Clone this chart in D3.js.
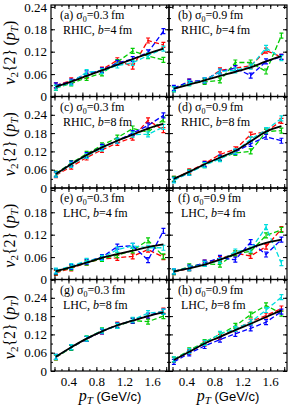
<!DOCTYPE html>
<html>
<head>
<meta charset="utf-8">
<script src="https://cdn.jsdelivr.net/npm/d3@7"></script>
<style>
  body { margin: 0; background: #fff; }
  svg { display: block; }
  text { font-family: "Liberation Serif", "Times New Roman", serif; fill: #000; }
</style>
</head>
<body>
<svg id="chart" width="289" height="407"></svg>
<script>
// pT bins (GeV/c)
var pt = [0.22, 0.44, 0.66, 0.88, 1.10, 1.32, 1.54, 1.76];

var panelTags = ["a", "b", "c", "d", "e", "f", "g", "h"];
var sigma0 = ["0.3", "0.9", "0.3", "0.9", "0.3", "0.9", "0.3", "0.9"];
var collider = ["RHIC", "RHIC", "RHIC", "RHIC", "LHC", "LHC", "LHC", "LHC"];
var impact = ["4", "4", "8", "8", "4", "4", "8", "8"];

// black solid curve
var hydro = [
  [0.026, 0.040, 0.055, 0.070, 0.085, 0.100, 0.115, 0.128],
  [0.021, 0.032, 0.043, 0.055, 0.066, 0.078, 0.094, 0.108],
  [0.046, 0.078, 0.108, 0.133, 0.155, 0.175, 0.195, 0.210],
  [0.030, 0.053, 0.078, 0.100, 0.122, 0.153, 0.185, 0.203],
  [0.022, 0.033, 0.045, 0.058, 0.068, 0.077, 0.087, 0.094],
  [0.022, 0.030, 0.040, 0.053, 0.068, 0.084, 0.098, 0.107],
  [0.047, 0.078, 0.106, 0.130, 0.150, 0.165, 0.180, 0.192],
  [0.036, 0.063, 0.090, 0.112, 0.134, 0.155, 0.177, 0.199]
];
var redV = [
  [0.030, 0.043, 0.055, 0.072, 0.097, 0.080, 0.150, 0.138],
  [0.020, 0.040, 0.042, 0.070, 0.076, 0.082, 0.123, 0.106],
  [0.042, 0.070, 0.100, 0.125, 0.148, 0.165, 0.222, 0.190],
  [0.030, 0.055, 0.080, 0.110, 0.127, 0.175, 0.185, 0.220],
  [0.018, 0.030, 0.045, 0.055, 0.058, 0.062, 0.080, 0.060],
  [0.020, 0.030, 0.045, 0.055, 0.070, 0.063, 0.088, 0.135],
  [0.045, 0.077, 0.105, 0.130, 0.152, 0.165, 0.180, 0.198],
  [0.036, 0.063, 0.090, 0.112, 0.137, 0.162, 0.182, 0.205]
];
var greenV = [
  [0.023, 0.035, 0.050, 0.062, 0.092, 0.122, 0.108, 0.098],
  [0.020, 0.036, 0.039, 0.043, 0.091, 0.091, 0.067, 0.163],
  [0.047, 0.082, 0.112, 0.140, 0.165, 0.195, 0.183, 0.225],
  [0.030, 0.052, 0.075, 0.098, 0.115, 0.120, 0.185, 0.188],
  [0.020, 0.032, 0.045, 0.055, 0.065, 0.078, 0.105, 0.062],
  [0.020, 0.035, 0.042, 0.040, 0.070, 0.075, 0.118, 0.133],
  [0.045, 0.076, 0.107, 0.133, 0.148, 0.165, 0.162, 0.180],
  [0.038, 0.068, 0.095, 0.120, 0.148, 0.185, 0.215, 0.188]
];
var blueV = [
  [0.030, 0.040, 0.062, 0.070, 0.090, 0.100, 0.118, 0.175],
  [0.023, 0.040, 0.043, 0.067, 0.076, 0.056, 0.094, 0.106],
  [0.045, 0.080, 0.108, 0.135, 0.155, 0.180, 0.205, 0.238],
  [0.027, 0.050, 0.078, 0.100, 0.118, 0.145, 0.168, 0.155],
  [0.022, 0.034, 0.048, 0.060, 0.088, 0.090, 0.052, 0.130],
  [0.022, 0.032, 0.045, 0.058, 0.053, 0.100, 0.067, 0.107],
  [0.046, 0.078, 0.105, 0.130, 0.150, 0.165, 0.182, 0.195],
  [0.030, 0.058, 0.082, 0.103, 0.122, 0.140, 0.160, 0.195]
];
var cyanV = [
  [0.024, 0.037, 0.065, 0.068, 0.083, 0.090, 0.110, 0.128],
  [0.019, 0.036, 0.043, 0.067, 0.070, 0.080, 0.130, 0.103],
  [0.044, 0.076, 0.105, 0.130, 0.155, 0.175, 0.176, 0.200],
  [0.025, 0.050, 0.075, 0.095, 0.120, 0.160, 0.190, 0.228],
  [0.024, 0.036, 0.050, 0.058, 0.080, 0.090, 0.085, 0.085],
  [0.022, 0.030, 0.042, 0.050, 0.075, 0.080, 0.140, 0.044],
  [0.046, 0.078, 0.106, 0.132, 0.148, 0.168, 0.190, 0.195],
  [0.038, 0.065, 0.092, 0.122, 0.138, 0.160, 0.200, 0.242]
];

var yMaxRow = [0.245, 0.3, 0.245, 0.3];
var yTickLabels = [
  [0, 0.06, 0.12, 0.18, 0.24],
  [0, 0.06, 0.12, 0.18, 0.24],
  [0, 0.06, 0.12, 0.18],
  [0, 0.06, 0.12, 0.18, 0.24]
];
var xTickLabels = [0.4, 0.8, 1.2, 1.6];
var xDomain = [0.15, 1.84];

var svg = d3.select("#chart"),
    padL = 51, padR = 287, padT = 5, padB = 371,
    colW = (padR - padL) / 2,
    rowH = (padB - padT) / 4;

var series = [
  {vals: redV, color: "#ff0000"},
  {vals: greenV, color: "#00cc00"},
  {vals: blueV, color: "#0000ff"},
  {vals: cyanV, color: "#00dede"}
];

var x = d3.scaleLinear().domain(xDomain).range([0, colW]);
var xMajor = d3.range(0.2, 1.81, 0.2).map(function(d) { return +d.toFixed(1); });
var xMinor = d3.range(0.2, 1.81, 0.1).map(function(d) { return +d.toFixed(1); });

panelTags.forEach(function(tag, p) {
  var r = Math.floor(p / 2), c = p % 2;
  var g = svg.append("g")
      .attr("transform", "translate(" + (padL + c * colW) + "," + (padT + r * rowH) + ")");
  var y = d3.scaleLinear().domain([0, yMaxRow[r]]).range([rowH, 0]);
  var yMajor = d3.range(0, yMaxRow[r] + 0.001, 0.06).map(function(d) { return +d.toFixed(2); });
  var yMinor = d3.range(0, yMaxRow[r] + 0.001, 0.03).map(function(d) { return +d.toFixed(2); });

  var line = d3.line()
      .x(function(d, i) { return x(pt[i]); })
      .y(function(d) { return y(d); });

  series.forEach(function(s) {
    var v = s.vals[p];
    g.append("path")
      .attr("d", line(v))
      .attr("fill", "none")
      .attr("stroke", s.color)
      .attr("stroke-width", 1.3)
      .attr("stroke-dasharray", "5,2.5");
    var bars = g.selectAll(null).data(v).enter().append("g")
      .attr("transform", function(d, i) { return "translate(" + x(pt[i]) + "," + y(d) + ")"; });
    bars.append("path")
      .attr("d", "M-2,-2.5H2M0,-2.5V2.5M-2,2.5H2")
      .attr("stroke", s.color)
      .attr("stroke-width", 1.2)
      .attr("fill", "none");
  });

  g.append("path")
    .attr("d", line.curve(d3.curveMonotoneX)(hydro[p]))
    .attr("fill", "none")
    .attr("stroke", "#000")
    .attr("stroke-width", 1.8);

  // ticks on all four sides, pointing in
  g.append("g").attr("transform", "translate(0," + rowH + ")")
    .call(d3.axisBottom(x).tickValues(xMajor).tickSize(-4).tickPadding(6)
      .tickFormat(function(d) { return (r === 3 && xTickLabels.indexOf(d) >= 0) ? d3.format(".1f")(d) : ""; }));
  g.append("g").attr("transform", "translate(0," + rowH + ")")
    .call(d3.axisBottom(x).tickValues(xMinor).tickSize(-2).tickFormat(""));
  g.append("g").call(d3.axisTop(x).tickValues(xMajor).tickSize(-4).tickFormat(""));
  g.append("g").call(d3.axisTop(x).tickValues(xMinor).tickSize(-2).tickFormat(""));

  g.append("g")
    .call(d3.axisLeft(y).tickValues(yMajor).tickSize(-4).tickPadding(4)
      .tickFormat(function(d) { return (c === 0 && yTickLabels[r].indexOf(d) >= 0) ? (d === 0 ? "0" : d3.format(".2f")(d)) : ""; }));
  g.append("g").call(d3.axisLeft(y).tickValues(yMinor).tickSize(-2).tickFormat(""));
  g.append("g").attr("transform", "translate(" + colW + ",0)")
    .call(d3.axisRight(y).tickValues(yMajor).tickSize(-4).tickFormat(""));
  g.append("g").attr("transform", "translate(" + colW + ",0)")
    .call(d3.axisRight(y).tickValues(yMinor).tickSize(-2).tickFormat(""));

  g.selectAll(".domain").remove();
  g.selectAll(".tick line").attr("stroke", "#000").attr("stroke-width", 1);
  g.selectAll(".tick text").attr("font-size", 13).attr("font-family", "Liberation Serif");

  g.append("rect")
    .attr("width", colW).attr("height", rowH)
    .attr("fill", "none").attr("stroke", "#000").attr("stroke-width", 1.2);

  // panel labels
  var t1 = g.append("text").attr("x", 9).attr("y", 14).attr("font-size", 12);
  t1.append("tspan").text("(" + tag + ") σ");
  t1.append("tspan").attr("font-size", 8).attr("dy", 3).text("0");
  t1.append("tspan").attr("dy", -3).text("=" + sigma0[p] + "\u2009fm");
  var t2 = g.append("text").attr("x", 12).attr("y", 29).attr("font-size", 12);
  t2.append("tspan").text(collider[p] + ", ");
  t2.append("tspan").attr("font-style", "italic").text("b");
  t2.append("tspan").text("=" + impact[p] + "\u2009fm");

  // y title
  if (c === 0) {
    var yt = svg.append("text")
      .attr("transform", "translate(15," + (padT + r * rowH + rowH / 2 + 2) + ") rotate(-90)")
      .attr("text-anchor", "middle")
      .attr("font-size", 16);
    yt.append("tspan").attr("font-style", "italic").text("v");
    yt.append("tspan").attr("font-size", 11).attr("dy", 3).text("2");
    yt.append("tspan").attr("dy", -3).text("{2}\u2009(");
    yt.append("tspan").attr("font-style", "italic").text("p");
    yt.append("tspan").attr("font-size", 11).attr("font-style", "italic").attr("dy", 3).text("T");
    yt.append("tspan").attr("dy", -3).text(")");
  }
  if (r === 3) {
    var xt = svg.append("text")
      .attr("x", padL + c * colW + colW / 2)
      .attr("y", 401)
      .attr("text-anchor", "middle")
      .attr("font-size", 16);
    xt.append("tspan").attr("font-style", "italic").text("p");
    xt.append("tspan").attr("font-size", 11).attr("font-style", "italic").attr("dy", 3).text("T");
    xt.append("tspan").attr("dy", -3).attr("font-family", "Liberation Sans").attr("font-size", 13).text(" (GeV/c)");
  }
});
</script>
</body>
</html>
